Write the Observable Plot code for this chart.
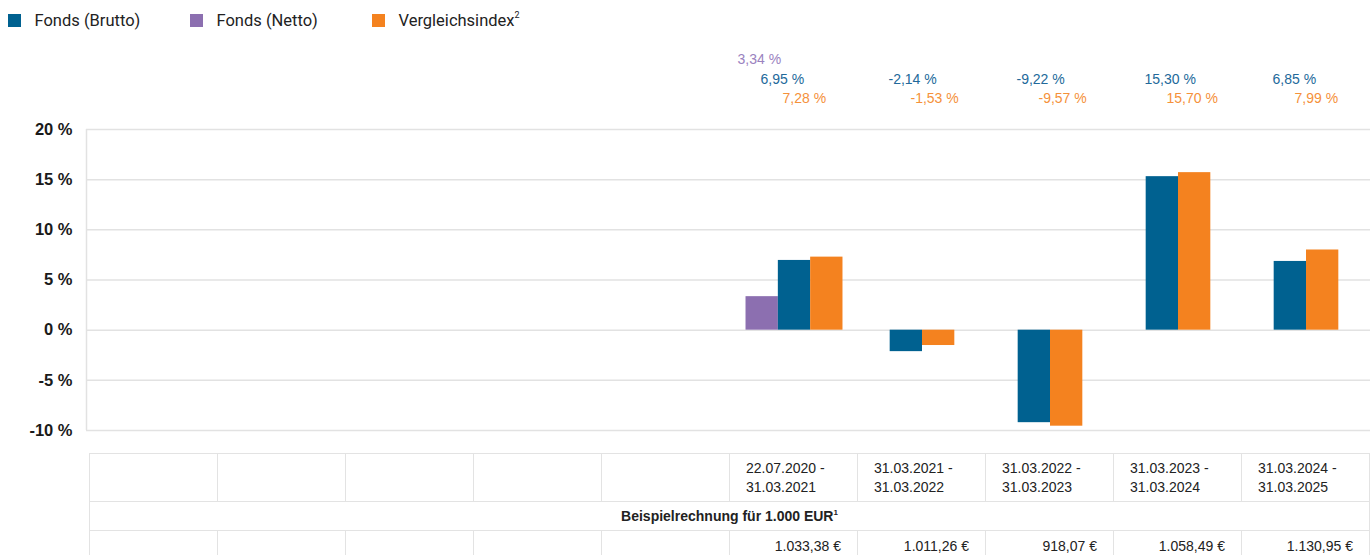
<!DOCTYPE html>
<html>
<head>
<meta charset="utf-8">
<script src="https://cdn.jsdelivr.net/npm/d3@7"></script>
<script src="https://cdn.jsdelivr.net/npm/@observablehq/plot@0.6"></script>
<style>
  html, body { margin: 0; padding: 0; background: #fff; width: 1372px; height: 555px; overflow: hidden; }
  body { position: relative; font-family: Roboto, "Liberation Sans", sans-serif; color: #222; }
  #legend { position: absolute; left: 8px; top: 0; height: 38px; display: flex; align-items: flex-start; }
  .item { width: 182px; display: flex; align-items: center; padding-top: 11px; font-size: 16.5px; color: #222; }
  .sw { width: 12.5px; height: 12.5px; margin-right: 14px; flex: none; }
  .item sup { font-size: 9px; vertical-align: 8px; line-height: 0; }
  #chart { position: absolute; left: 0; top: 38px; }
  #tbl { position: absolute; left: 89px; top: 453px; border-collapse: collapse; table-layout: fixed;
         font-family: "Liberation Sans Narrow", "Liberation Sans", sans-serif; font-size: 14px; color: #222; }
  #tbl td { border: 1.5px solid #e3e3e3; width: 128px; box-sizing: border-box; padding: 0; }
  #tbl tr.r1 td { height: 48px; padding-left: 16px; line-height: 19px; vertical-align: middle; }
  #tbl tr.r2 td { height: 29px; text-align: center; font-family: "Liberation Sans", Arial, sans-serif; font-weight: bold; font-size: 14px; }
  #tbl tr.r2 sup { font-size: 8px; vertical-align: 6px; line-height: 0; }
  #tbl tr.r3 td { height: 30px; text-align: right; padding-right: 16px; }
</style>
</head>
<body>
<div id="legend"></div>
<div id="chart"></div>
<table id="tbl"></table>
<script>
// ---- data ----
const emptyColumns = 5;
const periodStart = ["22.07.2020", "31.03.2021", "31.03.2022", "31.03.2023", "31.03.2024"];
const periodEnd   = ["31.03.2021", "31.03.2022", "31.03.2023", "31.03.2024", "31.03.2025"];
const seriesNames = ["Fonds (Netto)", "Fonds (Brutto)", "Vergleichsindex"];
const netto   = [3.34, null, null, null, null];
const brutto  = [6.95, -2.14, -9.22, 15.30, 6.85];
const index   = [7.28, -1.53, -9.57, 15.70, 7.99];
const exampleValues = [1033.38, 1011.26, 918.07, 1058.49, 1130.95];
const exampleTitle = "Beispielrechnung für 1.000 EUR";
const yTicks = [-10, -5, 0, 5, 10, 15, 20];

// ---- styles ----
const barColors  = ["#8c6fb0", "#006190", "#f4821f"];
const textColors = ["#9a82c0", "#22699a", "#f5913a"];
const legendOrder = [1, 0, 2];
const legendSup = ["", "", "2"];
const barW = 0.2525;           // bar width as fraction of a column
const labelDx = [-57, -34, -12];
const labelDy = [-75, -55, -36];
const nCols = emptyColumns + periodStart.length;

const seriesValues = [netto, brutto, index];
const bars = periodStart.flatMap((p, i) => {
  const present = seriesNames.map((s, k) => ({s, k, v: seriesValues[k][i]})).filter(d => d.v != null);
  return present.map((d, j) => {
    const col = emptyColumns + i;
    const x1 = col + 0.5 + (j - present.length / 2) * barW;
    return {...d, col, x1, x2: x1 + barW};
  });
});
const fmtPct = v => v.toFixed(2).replace(".", ",") + " %";
const fmtEur = v => new Intl.NumberFormat("de-DE", {minimumFractionDigits: 2, maximumFractionDigits: 2}).format(v) + " €";

// ---- legend ----
const legend = document.getElementById("legend");
legendOrder.forEach(k => {
  const it = document.createElement("div");
  it.className = "item";
  it.innerHTML = `<span class="sw" style="background:${barColors[k]}"></span><span>${seriesNames[k]}${legendSup[k] ? `<sup>${legendSup[k]}</sup>` : ""}</span>`;
  legend.appendChild(it);
});

// ---- chart ----
const chart = Plot.plot({
  width: 1372,
  height: 415,
  marginLeft: 90,
  marginRight: 2,
  marginTop: 91,
  marginBottom: 23,
  style: {fontFamily: "'Liberation Sans', Arial, sans-serif", background: "transparent"},
  x: {domain: [0, nCols], axis: null},
  y: {domain: [-10, 20], axis: null},
  marks: [
    Plot.ruleY(yTicks, {stroke: "#e2e2e2", strokeWidth: 1.5, insetLeft: -4}),
    Plot.ruleX([0], {y1: yTicks[0], y2: yTicks[yTicks.length - 1], dx: -4, stroke: "#e2e2e2", strokeWidth: 1.5}),
    Plot.rect(bars, {x1: "x1", x2: "x2", y1: 0, y2: "v", fill: d => barColors[d.k]}),
    ...seriesNames.map((s, k) => Plot.text(bars.filter(d => d.k === k), {
      x: d => d.col + 0.5, frameAnchor: "top", dx: labelDx[k], dy: labelDy[k],
      text: d => fmtPct(d.v), textAnchor: "start", fill: textColors[k],
      fontSize: 14, fontFamily: "'Liberation Sans Narrow', 'Liberation Sans', sans-serif"
    })),
    Plot.axisY(yTicks, {
      tickSize: 0, tickPadding: 18, tickFormat: d => `${d} %`, label: null,
      fontSize: 16.5, fontWeight: "bold", fill: "#1a1a1a"
    })
  ]
});
document.getElementById("chart").appendChild(chart);

// ---- table ----
const tbl = document.getElementById("tbl");
const blanks = Array.from({length: emptyColumns}, () => "<td></td>").join("");
tbl.innerHTML =
  `<tr class="r1">${blanks}${periodStart.map((s, i) => `<td>${s} -<br>${periodEnd[i]}</td>`).join("")}</tr>` +
  `<tr class="r2"><td colspan="${nCols}">${exampleTitle}<sup>1</sup></td></tr>` +
  `<tr class="r3">${blanks}${exampleValues.map(v => `<td>${fmtEur(v)}</td>`).join("")}</tr>`;
</script>
</body>
</html>
